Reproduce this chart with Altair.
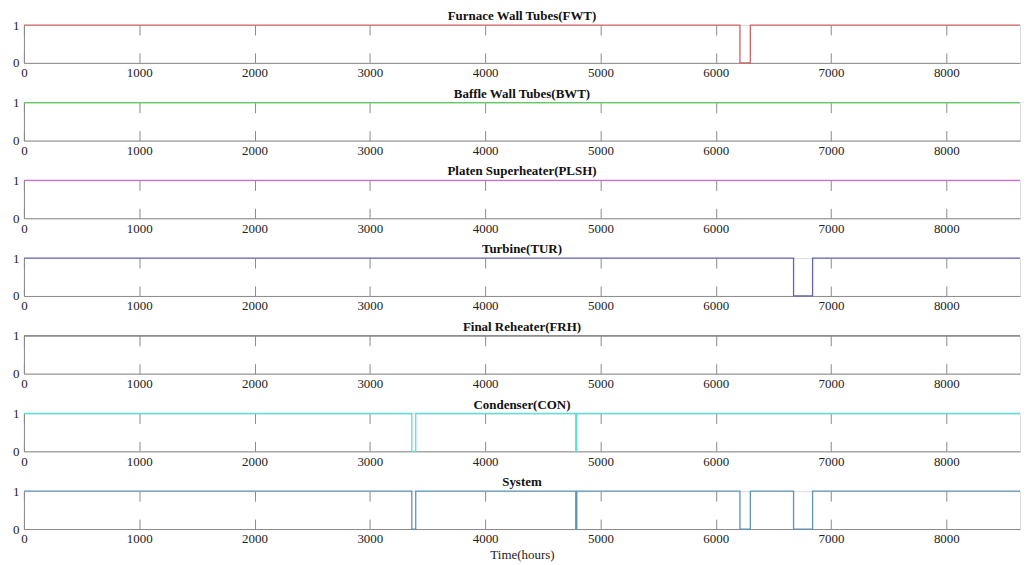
import altair as alt
import pandas as pd

# ---- data ----
titles = [
    "Furnace Wall Tubes(FWT)",
    "Baffle Wall Tubes(BWT)",
    "Platen Superheater(PLSH)",
    "Turbine(TUR)",
    "Final Reheater(FRH)",
    "Condenser(CON)",
    "System",
]
colors = ["#d06464", "#5ccf5c", "#cf6ccf", "#6464b4", "#6a6a6a", "#5ee0d6", "#5e94b8"]
down_start = [[6210], [], [], [6675], [], [3364, 4786], [3364, 4786, 6210, 6675]]
down_end = [[6300], [], [], [6840], [], [3398, 4795], [3398, 4795, 6300, 6840]]
x_ticks = [0, 1000, 2000, 3000, 4000, 5000, 6000, 7000, 8000]
y_ticks = [0, 1]
x_end = 8639

FONT = "Liberation Serif"
W = 1000
H = 38


def panel(i):
    rows = [(0, 1)]
    for s, e in zip(down_start[i], down_end[i]):
        rows.append((s, 0))
        rows.append((e, 1))
    rows.append((x_end, 1))
    df = pd.DataFrame(rows, columns=["t", "state"])
    last = i == len(titles) - 1
    xaxis = dict(
        values=x_ticks,
        format="d",
        grid=True,
        gridDash=[10, 18],
        gridColor="#8a8a8a",
        gridWidth=1,
        gridOpacity=1,
        ticks=False,
        domainColor="#8a8a8a",
        labelPadding=4,
        labelFont=FONT,
        labelFontSize=13,
        labelColor="#222",
        labelFlush=False,
    )
    if last:
        xaxis.update(title="Time(hours)", titleFont=FONT, titleFontSize=13,
                     titleFontWeight="normal", titleColor="#222", titlePadding=3)
    else:
        xaxis.update(title=None)
    x = alt.X("t:Q", scale=alt.Scale(domain=[0, x_end], nice=False, zero=False),
              axis=alt.Axis(**xaxis))
    y = alt.Y("state:Q", scale=alt.Scale(domain=[0, 1], nice=False),
              axis=alt.Axis(values=y_ticks, format="d", title=None, grid=False, ticks=False,
                            domainColor="#8a8a8a", labelPadding=5,
                            labelFont=FONT, labelFontSize=13, labelColor="#222"))
    return (
        alt.Chart(df)
        .mark_line(interpolate="step-after", color=colors[i], strokeWidth=1.3)
        .encode(x=x, y=y)
        .properties(
            width=W,
            height=H,
            title=alt.TitleParams(titles[i], font=FONT, fontSize=13, fontWeight="bold",
                                  color="#111", anchor="middle", offset=-4),
        )
    )


chart = (
    alt.vconcat(*[panel(i) for i in range(len(titles))], spacing=6)
    .properties(padding={"left": 4, "top": 0, "right": 0, "bottom": 0})
    .configure_view(stroke=None)
    .configure(background="white")
)

chart.save("out.html", embed_options={"renderer": "svg", "actions": False})
